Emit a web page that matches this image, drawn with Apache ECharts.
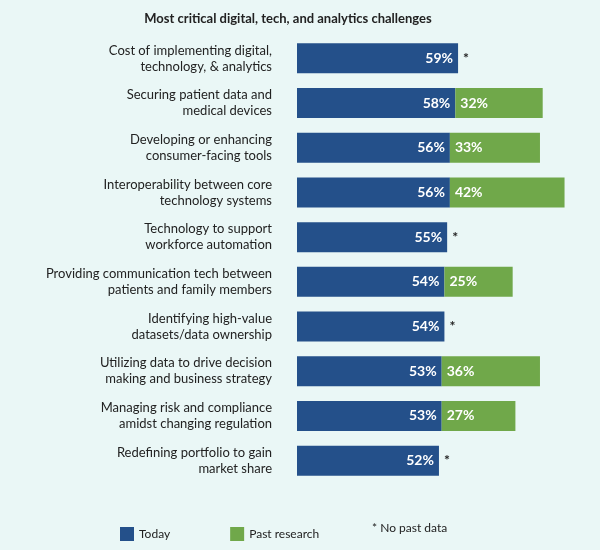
<!DOCTYPE html>
<html><head><meta charset="utf-8">
<script src="https://cdn.jsdelivr.net/npm/echarts@6/dist/echarts.min.js"></script>
<style>html,body{margin:0;padding:0;background:#eaf7f6}#c{width:600px;height:550px}</style>
</head><body><div id="c"></div>
<script>
const categories = [
 "Cost of implementing digital,\ntechnology, & analytics",
 "Securing patient data and\nmedical devices",
 "Developing or enhancing\nconsumer-facing tools",
 "Interoperability between core\ntechnology systems",
 "Technology to support\nworkforce automation",
 "Providing communication tech between\npatients and family members",
 "Identifying high-value\ndatasets/data ownership",
 "Utilizing data to drive decision\nmaking and business strategy",
 "Managing risk and compliance\namidst changing regulation",
 "Redefining portfolio to gain\nmarket share"
];
const today = [59,58,56,56,55,54,54,53,53,52];
const past = [null,32,33,42,null,25,null,36,27,null];

const font = "Lato, 'Open Sans', sans-serif";
const chart = echarts.init(document.getElementById('c'));
chart.setOption({
  backgroundColor:'#eaf7f6',
  textStyle:{fontFamily:font},
  title:{text:'Most critical digital, tech, and analytics challenges',left:283,top:7,textAlign:'center',
    textStyle:{fontSize:13,fontWeight:'bold',color:'#222',fontFamily:font}},
  grid:{left:297,right:30,top:36,bottom:67},
  xAxis:{type:'value',min:0,max:100,show:false},
  yAxis:{type:'category',data:categories,inverse:true,axisLine:{show:false},axisTick:{show:false},
    axisLabel:{margin:25,fontSize:13,color:'#222',lineHeight:16,fontFamily:font}},
  legend:{left:115,top:522,itemWidth:14,itemHeight:14,itemGap:60,icon:'rect',
    textStyle:{fontSize:12,color:'#222',fontFamily:font},data:['Today','Past research']},
  graphic:[{type:'text',left:372,top:522,style:{text:'* No past data',fontSize:12,fill:'#222',fontFamily:font}}],
  series:[
    {name:'Today',type:'bar',stack:'s',barWidth:30,data:today,itemStyle:{color:'#24508a'},
     label:{show:true,position:'insideRight',formatter:'{c}%',color:'#fff',fontWeight:'bold',fontSize:14,fontFamily:font}},
    {name:'Past research',type:'bar',stack:'s',barWidth:30,itemStyle:{color:'#70a84a'},
     data:past.map(v=>v==null?{value:4,itemStyle:{color:'rgba(0,0,0,0)'},
        label:{show:true,position:'insideLeft',formatter:'*',color:'#222',fontSize:14,fontWeight:'bold'}}:v),
     label:{show:true,position:'insideLeft',formatter:'{c}%',color:'#fff',fontWeight:'bold',fontSize:14,fontFamily:font}}
  ]
});
</script></body></html>
